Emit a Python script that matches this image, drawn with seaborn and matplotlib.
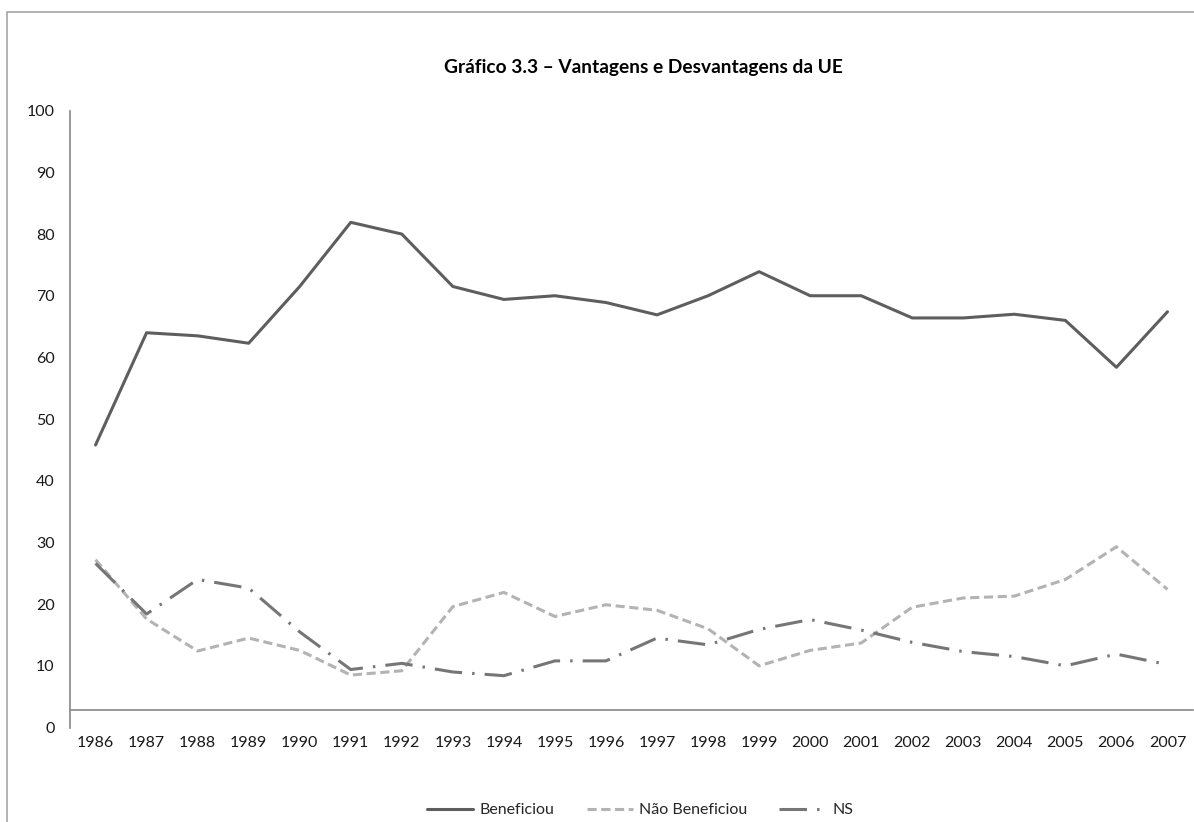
import matplotlib
matplotlib.use("Agg")
import matplotlib.pyplot as plt
import seaborn as sns
import pandas as pd
import numpy as np
from matplotlib.patches import Rectangle

sns.set_style("white")
plt.rcParams['font.family'] = ['Lato', 'DejaVu Sans']

years = [str(y) for y in range(1986, 2008)]
beneficiou = [45.8, 64.0, 63.5, 62.3, 71.5, 81.9, 80.0, 71.5, 69.4, 70.0, 68.9,
              66.9, 70.0, 73.9, 70.0, 70.0, 66.4, 66.4, 67.0, 66.0, 58.4, 67.4]
nao_beneficiou = [27.2, 17.6, 12.4, 14.5, 12.5, 8.5, 9.2, 19.6, 21.9, 18.0, 19.9,
                  19.0, 16.0, 10.0, 12.5, 13.7, 19.5, 21.0, 21.3, 24.0, 29.3, 22.4]
ns = [26.6, 18.4, 24.0, 22.6, 15.5, 9.4, 10.4, 9.0, 8.4, 10.8, 10.8,
      14.5, 13.4, 15.9, 17.5, 15.8, 13.8, 12.3, 11.5, 10.0, 11.9, 10.2]
series_names = ['Beneficiou', 'Não Beneficiou', 'NS']

df = pd.DataFrame({
    'ano': years * 3,
    'valor': beneficiou + nao_beneficiou + ns,
    'serie': [s for s in series_names for _ in years],
})

fig = plt.figure(figsize=(11.94, 8.22), dpi=100)
ax = fig.add_axes([70 / 1194, 1 - 727.5 / 822, 1123 / 1194, (727.5 - 110.7) / 822])

# chart area frame (Excel style, cut on the right/bottom)
fig.patches.append(Rectangle((7 / 1194, -0.1), 1.2, 1.1 - 12 / 822, transform=fig.transFigure,
                             fill=False, edgecolor='#a6a6a6', lw=1.2, clip_on=False))

palette = {'Beneficiou': '#5e5e5e', 'Não Beneficiou': '#b3b3b3', 'NS': '#767676'}
dashes = {'Beneficiou': '', 'Não Beneficiou': (3, 1.5), 'NS': (9, 3.3, 0.8, 3.3)}

sns.lineplot(data=df, x='ano', y='valor', hue='serie', style='serie',
             palette=palette, dashes=dashes, lw=2.2, ax=ax, sort=False)

ax.set_xlim(-0.5, len(years) - 0.5)
ax.set_ylim(0, 100)
ax.set_yticks(range(0, 101, 10))
ax.set_xticks(range(len(years)), labels=years)
ax.set_xticks(np.arange(-0.5, len(years), 1), minor=True)
ax.tick_params(axis='x', which='major', length=0, pad=19, labelsize=11.5, labelcolor='#1a1a1a')
ax.tick_params(axis='x', which='minor', length=5, width=1.2, color='#868686', direction='out')
ax.tick_params(axis='y', length=5, width=1.2, color='#868686', direction='out',
               labelsize=11.5, labelcolor='#1a1a1a', pad=6)
ax.set_xlabel('')
ax.set_ylabel('')
ax.grid(False)

for side in ['top', 'right']:
    ax.spines[side].set_visible(False)
ax.spines['left'].set_color('#868686')
ax.spines['left'].set_linewidth(1.2)
ax.spines['bottom'].set_color('#868686')
ax.spines['bottom'].set_linewidth(1.2)
ax.spines['bottom'].set_position(('data', 2.84))

fig.text(643 / 1194, 1 - 67 / 822, 'Gráfico 3.3 – Vantagens e Desvantagens da UE',
         ha='center', va='center', fontsize=13.8, fontweight='bold', color='#000000')

handles, labels = ax.get_legend_handles_labels()
ax.legend(handles, labels, loc='center', bbox_to_anchor=(640 / 1194, 1 - 810 / 822),
          bbox_transform=fig.transFigure, ncol=3, frameon=False, fontsize=11.5,
          handlelength=2.9, columnspacing=2.0, handletextpad=0.4)

fig.savefig('out.png', dpi=100)
